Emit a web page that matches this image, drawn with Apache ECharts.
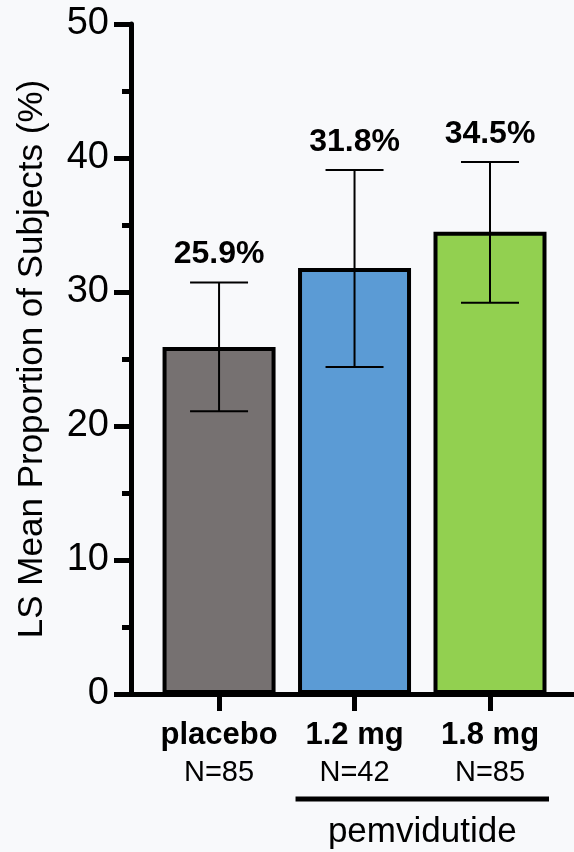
<!DOCTYPE html>
<html>
<head>
<meta charset="utf-8">
<script src="https://cdn.jsdelivr.net/npm/echarts@6/dist/echarts.min.js"></script>
<style>
  html, body { margin: 0; padding: 0; background: #f8f9fb; }
  #chart { width: 574px; height: 852px; }
</style>
</head>
<body>
<div id="chart"></div>
<script>
// Treatment groups and their results
const categories = ['placebo', '1.2 mg', '1.8 mg'];
const sampleSizes = ['N=85', 'N=42', 'N=85'];
const lsMean = [25.9, 31.8, 34.5];
const ciLower = [21.1, 24.4, 29.2];
const ciUpper = [30.7, 39.1, 39.7];
const barColors = ['#767171', '#5b9bd5', '#92d050'];
const yTickValues = [0, 10, 20, 30, 40, 50];
const groupName = 'pemvidutide';
const groupMembers = [1, 2];

const FONT = "'Liberation Sans', Arial, sans-serif";
const positions = categories.map((c, i) => i + 1);

const chart = echarts.init(document.getElementById('chart'), null, { renderer: 'canvas' });

const option = {
  backgroundColor: '#f8f9fb',
  animation: false,
  grid: { left: 131, right: 0, top: 24, bottom: 158 },
  xAxis: {
    type: 'value',
    min: 0.35,
    max: 3.62,
    splitLine: { show: false },
    axisLine: { show: true, onZero: false, lineStyle: { color: '#000', width: 5 } },
    axisTick: { show: true, customValues: positions, length: 17, lineStyle: { color: '#000', width: 5 } },
    axisLabel: {
      customValues: positions,
      margin: 22,
      formatter: v => {
        const i = Math.round(v) - 1;
        return '{b|' + categories[i] + '}\n{n|' + sampleSizes[i] + '}';
      },
      rich: {
        b: { fontFamily: FONT, fontWeight: 'bold', fontSize: 31, color: '#000', lineHeight: 38 },
        n: { fontFamily: FONT, fontSize: 29, color: '#000', lineHeight: 38 }
      }
    }
  },
  yAxis: {
    type: 'value',
    min: 0,
    max: 50,
    interval: 10,
    name: 'LS Mean Proportion of Subjects (%)',
    nameLocation: 'middle',
    nameGap: 81,
    nameTextStyle: { fontFamily: FONT, fontSize: 35, color: '#000' },
    splitLine: { show: false },
    axisLine: { show: true, onZero: false, lineStyle: { color: '#000', width: 5 } },
    axisTick: { show: true, length: 17, lineStyle: { color: '#000', width: 5 } },
    minorTick: { show: true, splitNumber: 2, length: 9, lineStyle: { color: '#000', width: 5 } },
    axisLabel: {
      margin: 22,
      fontFamily: FONT,
      fontSize: 38,
      color: '#000',
      customValues: yTickValues
    }
  },
  series: [
    {
      type: 'bar',
      barWidth: 113,
      z: 2,
      data: lsMean.map((v, i) => ({
        value: [positions[i], v],
        itemStyle: { color: barColors[i], borderColor: '#000', borderWidth: 4 }
      }))
    },
    {
      // Confidence interval whiskers with the mean written above
      type: 'custom',
      z: 5,
      data: lsMean.map((v, i) => [positions[i], ciLower[i], ciUpper[i], v]),
      renderItem: (params, api) => {
        const x = api.value(0);
        const lo = api.coord([x, api.value(1)]);
        const hi = api.coord([x, api.value(2)]);
        const capHalf = 29;
        const line = { stroke: '#000', lineWidth: 2 };
        return {
          type: 'group',
          children: [
            { type: 'line', shape: { x1: lo[0], y1: lo[1], x2: hi[0], y2: hi[1] }, style: line },
            { type: 'line', shape: { x1: lo[0] - capHalf, y1: lo[1], x2: lo[0] + capHalf, y2: lo[1] }, style: line },
            { type: 'line', shape: { x1: hi[0] - capHalf, y1: hi[1], x2: hi[0] + capHalf, y2: hi[1] }, style: line },
            {
              type: 'text',
              x: hi[0],
              y: hi[1] - 28,
              style: {
                text: api.value(3).toFixed(1) + '%',
                fontFamily: FONT,
                fontWeight: 'bold',
                fontSize: 32,
                fill: '#000',
                align: 'center',
                verticalAlign: 'middle'
              }
            }
          ]
        };
      }
    }
  ]
};

chart.setOption(option);

// Bracket beneath the active-dose groups with the drug name
const first = chart.convertToPixel({ gridIndex: 0 }, [positions[groupMembers[0]], 0]);
const last = chart.convertToPixel({ gridIndex: 0 }, [positions[groupMembers[groupMembers.length - 1]], 0]);
const halfSpan = 59;
const bracketY = first[1] + 105;
chart.setOption({
  graphic: [
    {
      type: 'line',
      shape: { x1: first[0] - halfSpan, y1: bracketY, x2: last[0] + halfSpan, y2: bracketY },
      style: { stroke: '#000', lineWidth: 5 }
    },
    {
      type: 'text',
      x: (first[0] + last[0]) / 2,
      y: bracketY + 33,
      style: {
        text: groupName,
        fontFamily: FONT,
        fontSize: 35,
        fill: '#000',
        align: 'center',
        verticalAlign: 'middle'
      }
    }
  ]
});
</script>
</body>
</html>
